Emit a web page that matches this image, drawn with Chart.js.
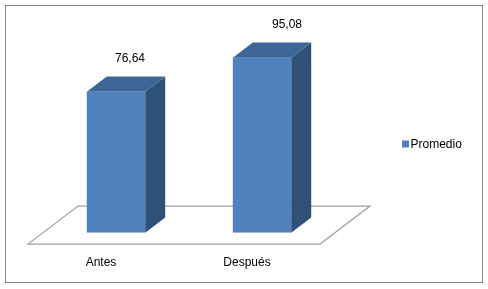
<!DOCTYPE html>
<html>
<head>
<meta charset="utf-8">
<script src="https://cdn.jsdelivr.net/npm/chart.js@4"></script>
<style>
  html, body { margin: 0; padding: 0; background: #fff; }
  #wrap { width: 488px; height: 289px; }
</style>
</head>
<body>
<div id="wrap"><canvas id="promChart" width="488" height="289"></canvas></div>
<script>
// chart data
const categories = ['Antes', 'Después'];
const seriesName = 'Promedio';
const promedio = [76.64, 95.08];

// 3D look (Excel style)
const frontColor = '#4F81BD';
const topColor = '#3D6596';
const sideColor = '#2F5077';
const floorDepth = { dx: 50, dy: -38 };   // full floor depth
const barDepthFrac = 0.4;                 // bar depth relative to floor
const barFrontFrac = 0.3;                 // where the bar front face sits in the floor
const labelNudge = [4, 15];               // excel places 3d labels a bit off centre

function fmt(v) {
    return v.toFixed(2).replace('.', ',');
}

const bars3d = {
    id: 'bars3d',
    beforeDatasetsDraw(chart) {
        const ctx = chart.ctx;
        const area = chart.chartArea;
        const y0 = chart.scales.y.getPixelForValue(0);
        const fx = -floorDepth.dx * barFrontFrac, fy = -floorDepth.dy * barFrontFrac;
        const bx = floorDepth.dx * (1 - barFrontFrac), by = floorDepth.dy * (1 - barFrontFrac);
        // floor
        ctx.save();
        ctx.beginPath();
        ctx.moveTo(area.left + fx, y0 + fy);
        ctx.lineTo(area.right + fx, y0 + fy);
        ctx.lineTo(area.right + bx, y0 + by);
        ctx.lineTo(area.left + bx, y0 + by);
        ctx.closePath();
        ctx.fillStyle = '#fff';
        ctx.fill();
        ctx.strokeStyle = '#a0a0a0';
        ctx.lineWidth = 1.2;
        ctx.stroke();
        ctx.restore();

        // sides and tops of the bars
        const ddx = floorDepth.dx * barDepthFrac, ddy = floorDepth.dy * barDepthFrac;
        chart.getDatasetMeta(0).data.forEach(bar => {
            const l = bar.x - bar.width / 2, r = bar.x + bar.width / 2;
            const t = bar.y, b = bar.base;
            ctx.save();
            ctx.fillStyle = sideColor;
            ctx.beginPath();
            ctx.moveTo(r, t);
            ctx.lineTo(r + ddx, t + ddy);
            ctx.lineTo(r + ddx, b + ddy);
            ctx.lineTo(r, b);
            ctx.closePath();
            ctx.fill();
            ctx.fillStyle = topColor;
            ctx.beginPath();
            ctx.moveTo(l, t);
            ctx.lineTo(l + ddx, t + ddy);
            ctx.lineTo(r + ddx, t + ddy);
            ctx.lineTo(r, t);
            ctx.closePath();
            ctx.fill();
            ctx.restore();
        });
    },
    afterDraw(chart) {
        const ctx = chart.ctx;
        const ddx = floorDepth.dx * barDepthFrac, ddy = floorDepth.dy * barDepthFrac;
        ctx.save();
        ctx.font = '12px "Liberation Sans", Arial, sans-serif';
        ctx.fillStyle = '#000';
        ctx.textAlign = 'center';
        ctx.textBaseline = 'middle';
        chart.getDatasetMeta(0).data.forEach((bar, i) => {
            ctx.fillText(fmt(promedio[i]), bar.x + ddx / 2 + labelNudge[i], bar.y + ddy - 17.5);
        });

        // legend
        ctx.fillStyle = frontColor;
        ctx.fillRect(402, 140.5, 7, 7);
        ctx.fillStyle = '#000';
        ctx.textAlign = 'left';
        ctx.fillText(chart.data.datasets[0].label, 410.5, 144.5);

        // outer frame
        ctx.strokeStyle = '#868686';
        ctx.lineWidth = 1;
        ctx.strokeRect(5.5, 5.5, 477, 277);
        ctx.restore();
    }
};

const ctx = document.getElementById('promChart').getContext('2d');
new Chart(ctx, {
    type: 'bar',
    data: {
        labels: categories,
        datasets: [{
            label: seriesName,
            data: promedio,
            backgroundColor: frontColor,
            categoryPercentage: 1,
            barPercentage: 0.4
        }]
    },
    options: {
        responsive: false,
        animation: false,
        layout: {
            padding: { left: 43, right: 153, top: 48.7, bottom: 19 }
        },
        plugins: {
            legend: { display: false },
            tooltip: { enabled: false }
        },
        scales: {
            x: {
                grid: { display: false },
                border: { display: false },
                afterFit(scale) {
                    scale.height = 37.3;
                },
                ticks: {
                    color: '#000',
                    font: { family: '"Liberation Sans", Arial, sans-serif', size: 12 },
                    labelOffset: -15,
                    padding: 15
                }
            },
            y: {
                display: false,
                min: 0,
                max: 100
            }
        }
    },
    plugins: [bars3d]
});
</script>
</body>
</html>
